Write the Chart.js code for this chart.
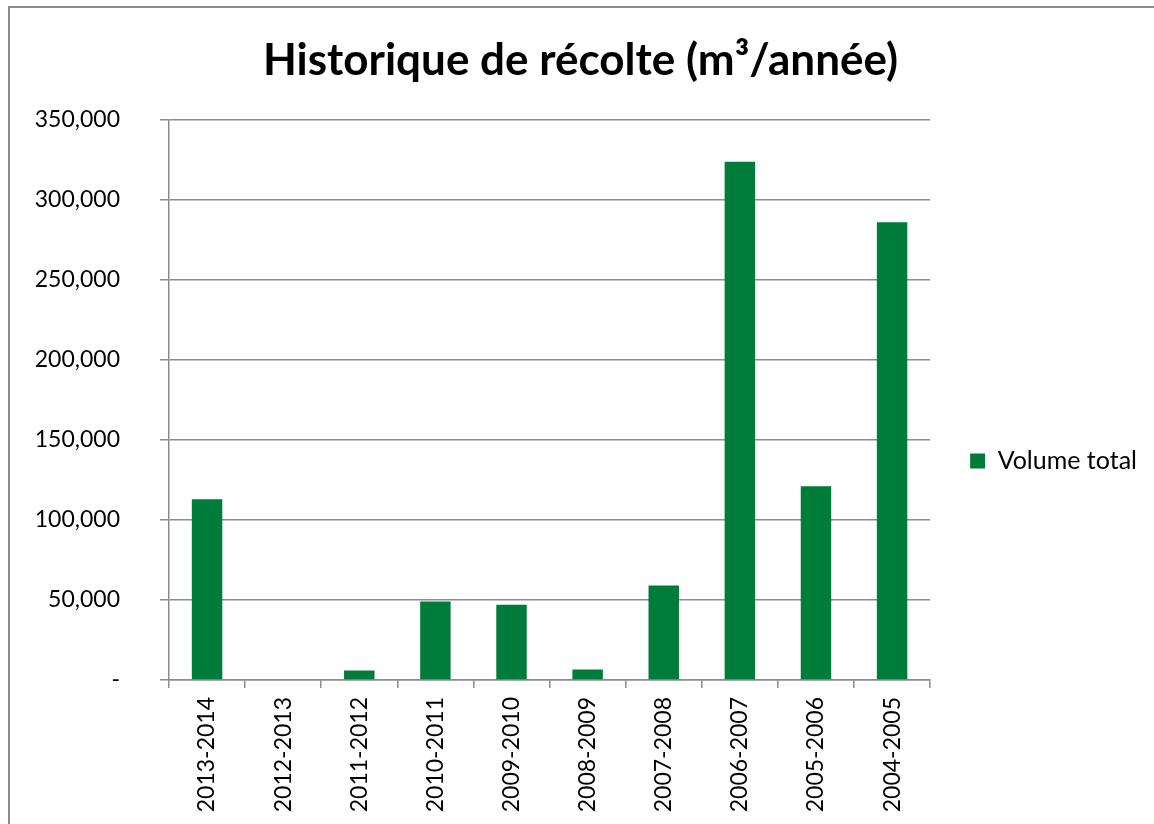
<!DOCTYPE html>
<html>
<head>
<meta charset="utf-8">
<script src="https://cdn.jsdelivr.net/npm/chart.js@4/dist/chart.umd.min.js"></script>
<style>
    html, body { margin: 0; padding: 0; background: #ffffff; overflow: hidden; }
    #wrap { position: relative; width: 1154px; height: 824px; }
    #frame {
        position: absolute; left: 8px; top: 6px;
        width: 1200px; height: 900px;
        border: 2px solid #8a8a8a; box-sizing: border-box;
    }
    canvas { position: absolute; left: 0; top: 0; }
</style>
</head>
<body>
<div id="wrap">
    <div id="frame"></div>
    <canvas id="chart" width="1154" height="824"></canvas>
</div>
<script>
// Harvest history, m³ per year
const seasons = ['2013-2014', '2012-2013', '2011-2012', '2010-2011', '2009-2010',
                 '2008-2009', '2007-2008', '2006-2007', '2005-2006', '2004-2005'];
const volumeTotal = [113000, 0, 6000, 49000, 47000, 6500, 59000, 323800, 121000, 286000];
const yTicks = [0, 50000, 100000, 150000, 200000, 250000, 300000, 350000];

const FONT = 'Lato, "Open Sans", sans-serif';
const GRID = '#8c8c8c';
const GREEN = '#007c3a';

const ctx = document.getElementById('chart').getContext('2d');

new Chart(ctx, {
    type: 'bar',
    data: {
        labels: seasons,
        datasets: [{
            label: 'Volume total',
            data: volumeTotal,
            backgroundColor: GREEN,
            borderWidth: 0,
            barPercentage: 0.4,
            categoryPercentage: 1.0
        }]
    },
    options: {
        responsive: false,
        animation: false,
        layout: { padding: { left: 14, right: 7, top: 0, bottom: 0 } },
        plugins: {
            title: {
                display: true,
                text: 'Historique de récolte (m³/année)',
                color: '#000000',
                font: { family: FONT, size: 44, weight: 'bold' },
                padding: { top: 34, bottom: 33 },
                weight: 500
            },
            legend: {
                position: 'right',
                // empty title only pushes the single entry down to mid-plot height
                title: {
                    display: true,
                    text: ' ',
                    font: { family: FONT, size: 10 },
                    padding: { top: 0, bottom: 86 }
                },
                labels: {
                    color: '#000000',
                    font: { family: FONT, size: 25 },
                    boxWidth: 15,
                    boxHeight: 15,
                    padding: 40
                }
            },
            tooltip: { enabled: false }
        },
        scales: {
            x: {
                grid: {
                    display: true,
                    drawOnChartArea: false,
                    drawTicks: true,
                    tickLength: 8,
                    color: GRID,
                    lineWidth: 1.5,
                    offset: true
                },
                border: { display: true, color: GRID, width: 1.5 },
                ticks: {
                    color: '#000000',
                    font: { family: FONT, size: 23 },
                    minRotation: 90,
                    maxRotation: 90,
                    padding: 9
                },
                afterFit: (scale) => { scale.height = 144; }
            },
            y: {
                min: 0,
                max: 350000,
                afterBuildTicks: (scale) => {
                    scale.ticks = yTicks.map(v => ({ value: v }));
                },
                grid: {
                    color: GRID,
                    lineWidth: 1.5,
                    drawTicks: true,
                    tickLength: 9
                },
                border: { display: true, color: GRID, width: 1.5 },
                ticks: {
                    color: '#000000',
                    font: { family: FONT, size: 23 },
                    padding: 40,
                    callback: (v) => v === 0 ? '-' : v.toLocaleString('en-US')
                },
                afterFit: (scale) => { scale.width = 155; }
            }
        }
    }
});
</script>
</body>
</html>
